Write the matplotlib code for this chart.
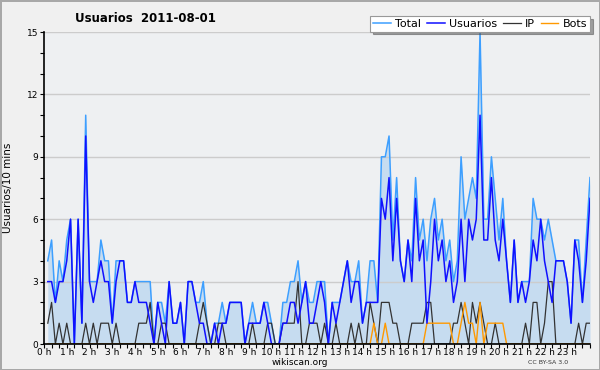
import matplotlib
matplotlib.use("Agg")
import matplotlib.pyplot as plt
import numpy as np
from matplotlib.ticker import MultipleLocator

# values per 10 minutes, 2011-08-01 (144 slots)
usuarios = [3, 3, 2, 3, 3, 4, 6, 0, 6, 1, 10, 3, 2, 3, 4, 3, 3, 1, 3, 4,
            4, 2, 2, 3, 2, 2, 2, 1, 0, 2, 1, 0, 3, 1, 1, 2, 0, 3, 3, 2,
            1, 1, 0, 0, 1, 0, 1, 1, 2, 2, 2, 2, 0, 1, 1, 1, 1, 2, 1, 0,
            0, 0, 1, 1, 2, 2, 1, 2, 3, 1, 1, 2, 3, 2, 0, 2, 1, 2, 3, 4,
            2, 3, 3, 1, 2, 2, 2, 2, 7, 6, 8, 4, 7, 4, 3, 5, 3, 7, 4, 5,
            1, 3, 6, 4, 5, 3, 4, 2, 3, 6, 3, 6, 5, 6, 11, 5, 5, 8, 5, 4,
            6, 4, 2, 5, 2, 3, 2, 3, 5, 4, 6, 4, 3, 2, 4, 4, 4, 3, 1, 5,
            4, 2, 4, 7]
ip = [1, 2, 0, 1, 0, 1, 0, 0, 0, 0, 1, 0, 1, 0, 1, 1, 1, 0, 1, 0,
      0, 0, 0, 0, 1, 1, 1, 2, 0, 0, 1, 1, 0, 0, 0, 0, 0, 0, 0, 0,
      1, 2, 1, 0, 0, 1, 1, 0, 0, 0, 0, 0, 0, 0, 1, 0, 0, 0, 1, 1,
      0, 0, 1, 1, 1, 1, 3, 0, 0, 1, 1, 1, 0, 1, 0, 0, 1, 0, 0, 0,
      1, 0, 1, 0, 0, 2, 1, 0, 2, 2, 2, 1, 1, 0, 0, 0, 1, 1, 1, 1,
      2, 2, 0, 0, 0, 0, 0, 1, 1, 2, 1, 0, 2, 1, 2, 1, 0, 0, 1, 0,
      0, 0, 0, 0, 0, 0, 1, 0, 2, 2, 0, 1, 3, 3, 0, 0, 0, 0, 0, 0,
      1, 0, 1, 1]
bots = [0] * 86 + [1, 0, 0, 1, 0, 0, 0, 0, 0, 0, 0, 0, 0, 0,
                   1, 1, 1, 1, 1, 1, 1, 0, 0, 1, 2, 1, 1, 0, 2, 0,
                   1, 1, 1, 1, 1] + [0] * 23
total = [4, 5, 2, 4, 3, 5, 6, 0, 6, 1, 11, 3, 3, 3, 5, 4, 4, 1, 4, 4,
         4, 2, 2, 3, 3, 3, 3, 3, 0, 2, 2, 1, 3, 1, 1, 2, 0, 3, 3, 2,
         2, 3, 1, 0, 1, 1, 2, 1, 2, 2, 2, 2, 0, 1, 2, 1, 1, 2, 2, 1,
         0, 0, 2, 2, 3, 3, 4, 2, 3, 2, 2, 3, 3, 3, 0, 2, 2, 2, 3, 4,
         3, 3, 4, 1, 2, 4, 4, 2, 9, 9, 10, 5, 8, 4, 3, 5, 4, 8, 5, 6,
         4, 6, 7, 5, 6, 4, 5, 3, 4, 9, 6, 7, 8, 7, 15, 6, 6, 9, 7, 5,
         7, 4, 2, 5, 2, 3, 3, 3, 7, 6, 6, 5, 6, 5, 4, 4, 4, 3, 1, 5,
         5, 2, 5, 8]

hour_labels = [f"{h} h" for h in range(24)]

t = (np.arange(len(total)) + 1) / 6.0

fig = plt.figure(figsize=(6, 3.7), dpi=100, facecolor="#f0f0f0",
                 edgecolor="#a8a8a8", linewidth=2)
ax = fig.add_axes([44 / 600, 1 - 344 / 370, 546 / 600, 312 / 370])
ax.set_facecolor("#eef0f2")

ax.fill_between(t, total, color="#c6dcf0", linewidth=0, zorder=1)
ax.plot(t, total, color="#3d9fff", lw=1.1, label="Total", zorder=3)
ax.plot(t, ip, color="#333333", lw=0.9, label="IP", zorder=4)
ax.plot(t, bots, color="#ff9900", lw=1.0, label="Bots", zorder=5)
ax.plot(t, usuarios, color="#1010ff", lw=1.1, label="Usuarios", zorder=6)

ax.set_xlim(0, 24)
ax.set_ylim(0, 15)
ax.set_xticks(range(24))
ax.set_xticklabels(hour_labels)
ax.xaxis.set_minor_locator(MultipleLocator(1 / 3))
ax.set_yticks(range(0, 16, 3))
ax.yaxis.set_minor_locator(MultipleLocator(1))
ax.tick_params(axis="both", which="both", direction="out", colors="black",
               labelsize=6.5, width=0.8, length=3)
ax.tick_params(axis="x", which="major", pad=0)
ax.tick_params(axis="y", which="major", pad=1)
ax.grid(axis="y", which="major", color="#cccccc", lw=1, zorder=0)
for s in ["top", "right"]:
    ax.spines[s].set_visible(False)
for s in ["left", "bottom"]:
    ax.spines[s].set_linewidth(1.2)
    ax.spines[s].set_zorder(7)

ax.set_ylabel("Usuarios/10 mins", fontsize=7.5, labelpad=10)

fig.text(300 / 600, 1 - 362.5 / 370, "wikiscan.org", fontsize=6.5,
         va="center", ha="center")
fig.text(75 / 600, 1 - 18 / 370, "Usuarios  2011-08-01", fontsize=8.5,
         fontweight="bold", va="center", ha="left")
fig.text(548 / 600, 1 - 363 / 370, "CC BY-SA 3.0", fontsize=4.5,
         va="center", ha="center", color="#333333")

handles, labels = ax.get_legend_handles_labels()
order = [labels.index(n) for n in ["Total", "Usuarios", "IP", "Bots"]]
leg = fig.legend([handles[i] for i in order], [labels[i] for i in order],
                 loc="upper right", bbox_to_anchor=(590 / 600, 1 - 16 / 370),
                 ncol=4, fontsize=8, frameon=True, fancybox=False,
                 shadow=True, handlelength=1.6, handletextpad=0.4,
                 columnspacing=0.5, borderpad=0.25, borderaxespad=0)
leg.get_frame().set_edgecolor("#999999")
leg.get_frame().set_linewidth(0.8)

fig.savefig("out.png", dpi=100, facecolor=fig.get_facecolor(),
            edgecolor=fig.get_edgecolor())
